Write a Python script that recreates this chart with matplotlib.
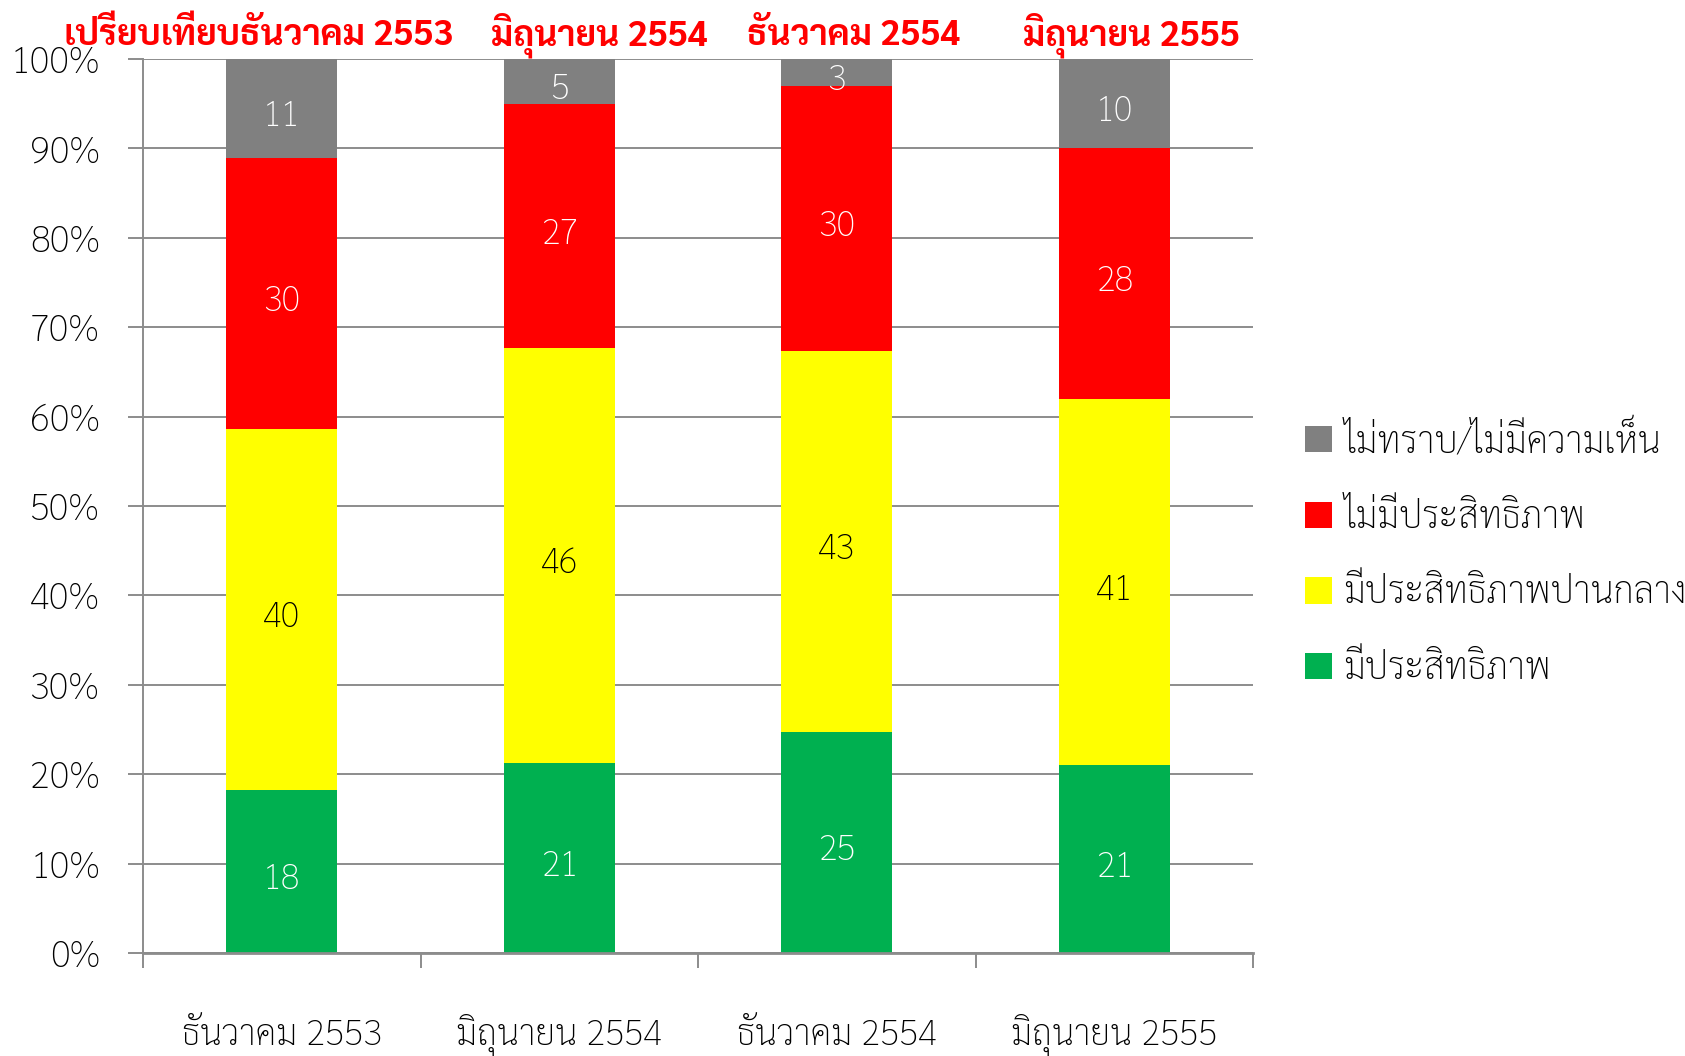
import matplotlib
matplotlib.use('Agg')
import numpy as np
import matplotlib.pyplot as plt
from matplotlib.ticker import FixedLocator, PercentFormatter

plt.rcParams['font.family'] = ['Sarabun', 'DejaVu Sans']
plt.rcParams['font.weight'] = 'light'

# data (survey %, each bar scaled to 100%)
months = ['ธันวาคม 2553', 'มิถุนายน 2554', 'ธันวาคม 2554', 'มิถุนายน 2555']
effective = [18, 21, 25, 21]
moderate = [40, 46, 43, 41]
not_effective = [30, 27, 30, 28]
no_opinion = [11, 5, 3, 10]

series_names = ['มีประสิทธิภาพ', 'มีประสิทธิภาพปานกลาง', 'ไม่มีประสิทธิภาพ', 'ไม่ทราบ/ไม่มีความเห็น']
series_colors = ['#00B050', '#FFFF00', '#FF0000', '#808080']
label_colors = ['white', 'black', 'white', 'white']
head_texts = ['เปรียบเทียบธันวาคม 2553', 'มิถุนายน 2554', 'ธันวาคม 2554', 'มิถุนายน 2555']
head_x = [64, 491, 747, 1023]   # left edge, px

data = np.array([effective, moderate, not_effective, no_opinion], dtype=float)
share = data / data.sum(axis=0) * 100

W, H = 1685, 1056
fig = plt.figure(figsize=(W / 100, H / 100), dpi=100)
ax = fig.add_axes([143 / W, 1 - 953 / H, (1253 - 143) / W, (953 - 59) / H])

x = np.arange(len(months))
bottom = np.zeros(len(months))
handles = []
for i in range(len(series_names)):
    bars = ax.bar(x, share[i], 0.4, bottom=bottom, color=series_colors[i],
                  label=series_names[i], zorder=3)
    handles.append(bars)
    for j in range(len(months)):
        ax.annotate(str(int(data[i][j])), (x[j], bottom[j] + share[i][j] / 2),
                    xytext=(0, -6), textcoords='offset points',
                    ha='center', va='center', fontsize=25, color=label_colors[i], zorder=4)
    bottom += share[i]

ax.set_xlim(-0.5, 3.5)
ax.set_ylim(0, 100)
ax.yaxis.set_major_locator(FixedLocator(np.arange(0, 101, 10)))
ax.yaxis.set_major_formatter(PercentFormatter(decimals=0))
ax.grid(axis='y', color='#8c8c8c', lw=1.4, zorder=0)
ax.set_xticks(x)
ax.set_xticklabels(months, fontsize=25.5, va='baseline')
ax.set_xticks(np.arange(-0.5, 4, 1), minor=True)
ax.tick_params(axis='x', which='major', length=0, pad=66)
ax.tick_params(axis='x', which='minor', length=11, width=1.4, color='#8c8c8c', direction='out')
ax.tick_params(axis='y', length=11, width=1.4, color='#8c8c8c', labelsize=26.5, pad=20)
for s in ['top', 'right']:
    ax.spines[s].set_visible(False)
ax.spines['left'].set_color('#8c8c8c')
ax.spines['left'].set_linewidth(1.4)
ax.spines['bottom'].set_color('#8c8c8c')
ax.spines['bottom'].set_linewidth(2)
ax.spines['bottom'].set_zorder(5)

for t, hx in zip(head_texts, head_x):
    fig.text(hx / W, 1 - 45 / H, t, color='#FF0000', fontsize=25.5, fontweight='bold',
             ha='left', va='baseline')

fig.legend(handles[::-1], series_names[::-1], loc='center left',
           bbox_to_anchor=(1272 / W, 1 - 554 / H), frameon=False, fontsize=26.3,
           handlelength=0.73, handleheight=0.73, handletextpad=0.33, labelspacing=1.07)

fig.savefig('out.png')
